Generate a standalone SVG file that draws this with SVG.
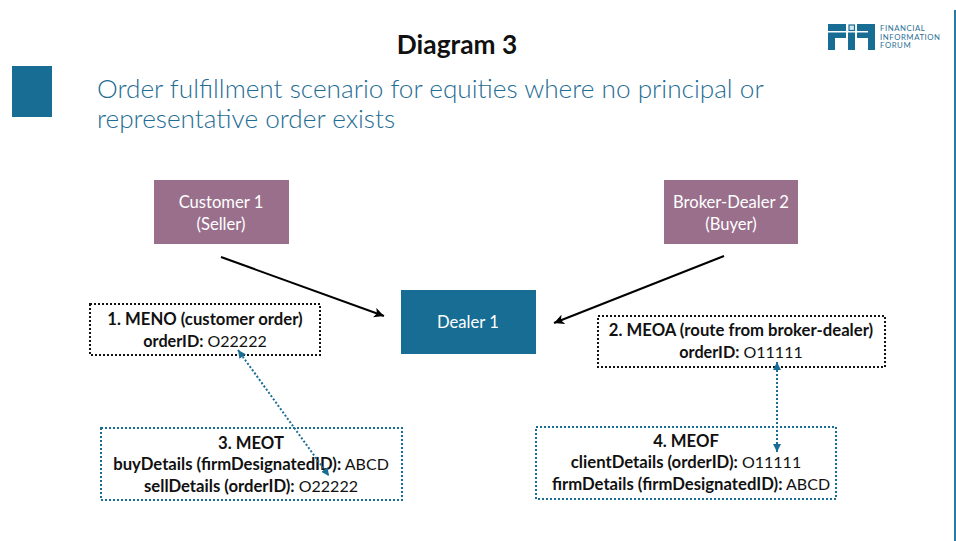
<svg xmlns="http://www.w3.org/2000/svg" width="956" height="541" viewBox="0 0 956 541">
<style>
text{font-family:Lato,"Open Sans","Liberation Sans",sans-serif;text-anchor:middle}
.t{font-size:16px;fill:#111}
.b{font-weight:700;font-size:16.7px}
.o{font-weight:700;font-size:16.2px}
.n{font-size:16.6px;fill:#fff}
.h{font-size:26.2px;fill:#1f6d94;text-anchor:start;font-weight:300}
.l{font-size:7.8px;fill:#2a6f96;text-anchor:start;letter-spacing:.55px}
.blk{fill:#fff;stroke:#111;stroke-width:2;stroke-dasharray:2 2}
.blu{fill:#fff;stroke:#1a6e96;stroke-width:2;stroke-dasharray:2 2}
.pur{fill:#9a6f8c}
.dk{fill:#176d94}
.arr{stroke:#000;stroke-width:2;fill:none;marker-end:url(#a)}
.dot{stroke:#1a6e96;stroke-width:2;stroke-dasharray:2 2;fill:none;marker-start:url(#s);marker-end:url(#e)}
</style>
<defs>
<marker id="a" markerUnits="userSpaceOnUse" markerWidth="12" markerHeight="10" refX="10" refY="5" orient="auto"><path d="M0 0L10 5L0 10L2.5 5Z" fill="#000"/></marker>
<marker id="e" markerUnits="userSpaceOnUse" markerWidth="10" markerHeight="8" refX="8" refY="4" orient="auto"><path d="M0 0L8 4L0 8Z" fill="#1a6e96"/></marker>
<marker id="s" markerUnits="userSpaceOnUse" markerWidth="10" markerHeight="8" refX="0" refY="4" orient="auto"><path d="M8 0L0 4L8 8Z" fill="#1a6e96"/></marker>
</defs>
<rect width="956" height="541" fill="#fff"/>
<rect x="954" y="10" width="2" height="531" fill="#2a7ba3"/>
<g id="logo">
<path class="dk" d="M828 24H846V31H828ZM828 32.500H846V38H835V50H828ZM848 32.500H855V50H848ZM857 24H875V50H868V38H857V32.500H868V31H857Z"/>
<rect x="849" y="25" width="5.500" height="5.500" fill="#d5e6ef" stroke="#176d94" stroke-width="1.200"/>
<text class="l" x="880" y="31">FINANCIAL</text>
<text class="l" x="880" y="39.500">INFORMATION</text>
<text class="l" x="880" y="48">FORUM</text>
</g>
<text x="457" y="54" font-size="26.300px" font-weight="700" fill="#111">Diagram 3</text>
<rect id="accent" class="dk" x="12" y="66" width="40" height="51"/>
<g id="heading">
<text class="h" x="97" y="98">Order fulfillment scenario for equities where no principal or</text>
<text class="h" x="97" y="128">representative order exists</text>
</g>
<g id="customer1"><rect class="pur" x="154" y="180" width="135" height="64"/><text class="n" x="221" y="207.500">Customer 1</text><text class="n" x="221" y="229.500">(Seller)</text></g>
<g id="broker-dealer2"><rect class="pur" x="664" y="180" width="134" height="64"/><text class="n" x="731" y="207.500">Broker-Dealer 2</text><text class="n" x="731" y="229.500">(Buyer)</text></g>
<g id="dealer1"><rect class="dk" x="401" y="290" width="135" height="64"/><text class="n" x="468" y="328">Dealer 1</text></g>
<g id="meno"><rect class="blk" x="90" y="304" width="230" height="51"/><text class="t b" x="205" y="325">1. MENO (customer order)</text><text class="t" x="205" y="347"><tspan class="o">orderID:</tspan> O22222</text></g>
<g id="meoa"><rect class="blk" x="598" y="316" width="287" height="51"/><text class="t b" x="741" y="336">2. MEOA (route from broker-dealer)</text><text class="t" x="741" y="358"><tspan class="o">orderID:</tspan> O11111</text></g>
<g id="meot"><rect class="blu" x="101" y="428" width="301" height="72"/><text class="t b" x="251" y="449">3. MEOT</text><text class="t" x="251" y="470"><tspan class="b">buyDetails (firmDesignatedID):</tspan> ABCD</text><text class="t" x="251" y="492"><tspan class="b">sellDetails (orderID):</tspan> O22222</text></g>
<g id="meof"><rect class="blu" x="536" y="427" width="300" height="72"/><text class="t b" x="686" y="447">4. MEOF</text><text class="t" x="686" y="468"><tspan class="b">clientDetails (orderID):</tspan> O11111</text><text class="t" x="691" y="490"><tspan class="b">firmDetails (firmDesignatedID):</tspan> ABCD</text></g>
<g id="connectors">
<path class="arr" d="M221 257L384 316"/>
<path class="arr" d="M724 256L554 323"/>
<path class="dot" d="M238 350L329 476"/>
<path class="dot" d="M777 362V452"/>
</g>
</svg>
